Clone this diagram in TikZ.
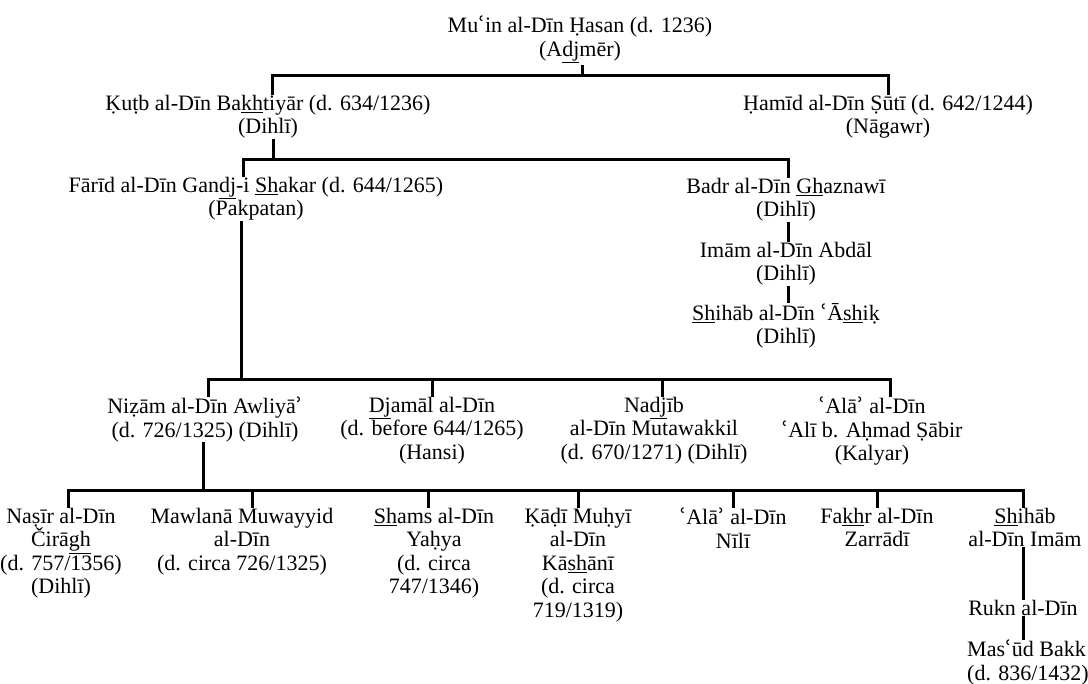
\documentclass[tikz,border=0pt]{standalone}
\usepackage{fontspec}
\setmainfont{Liberation Serif}
\newfontfamily\markfont{DejaVu Serif}
% transliteration marks for ʿayn and hamza
\newcommand\ayn{{\markfont ʿ}}
\newcommand\hmz{{\markfont ʾ}}
\newcommand\udl[1]{\underline{#1}}
\tikzset{
  person/.style={align=center, inner sep=0pt, anchor=north,
                 font=\fontsize{22}{23.5}\selectfont},
  link/.style={line width=3pt},
}
\begin{document}
\begin{tikzpicture}[x=1pt, y=-1pt]
\fill[white] (0,0) rectangle (1088,684);
\useasboundingbox (0,0) rectangle (1088,684);

% generations
\node[person] (mu) at (580,16) {Mu\ayn in al-Dīn Ḥasan (d. 1236)\\(A\udl{dj}mēr)};

\node[person] (kutb) at (268,95) {Ḳuṭb al-Dīn Ba\udl{kh}tiyār (d. 634/1236)\\(Dihlī)};
\node[person] (hamid) at (888,95) {Ḥamīd al-Dīn Ṣūtī (d. 642/1244)\\(Nāgawr)};

\node[person] (fari) at (256,177) {Fārīd al-Dīn Gan\udl{dj}-i \udl{Sh}akar (d. 644/1265)\\(Pakpatan)};
\node[person] (badr) at (786,178) {Badr al-Dīn \udl{Gh}aznawī\\(Dihlī)};
\node[person] (imam) at (786,242) {Imām al-Dīn Abdāl\\(Dihlī)};
\node[person] (shiha) at (786,303) {\udl{Sh}ihāb al-Dīn \ayn Ā\udl{sh}iḳ\\(Dihlī)};

\node[person] (nizam) at (205,397) {Niẓām al-Dīn Awliyā\hmz\\(d. 726/1325) (Dihlī)};
\node[person] (djamal) at (432,397) {\udl{Dj}amāl al-Dīn\\(d. before 644/1265)\\(Hansi)};
\node[person] (nadjib) at (654,397) {Na\udl{dj}īb\\al-Dīn Mutawakkil\\(d. 670/1271) (Dihlī)};
\node[person] (ala) at (872,397) {\ayn Alā\hmz{} al-Dīn\\\ayn Alī b. Aḥmad Ṣābir\\(Kalyar)};

\node[person] (nasir) at (61,508) {Naṣīr al-Dīn\\Čirā\udl{gh}\\(d. 757/1356)\\(Dihlī)};
\node[person] (mawlana) at (242,508) {Mawlanā Muwayyid\\al-Dīn\\(d. circa 726/1325)};
\node[person] (shams) at (434,508) {\udl{Sh}ams al-Dīn\\Yaḥya\\(d. circa\\747/1346)};
\node[person] (kadi) at (578,508) {Ḳāḍī Muḥyī\\al-Dīn\\Kā\udl{sh}ānī\\(d. circa\\719/1319)};
\node[person] (alan) at (733,508) {\ayn Alā\hmz{} al-Dīn\\Nīlī};
\node[person] (fakhr) at (877,508) {Fa\udl{kh}r al-Dīn\\Zarrādī};
\node[person] (shihb) at (1025,508) {\udl{Sh}ihāb\\al-Dīn Imām};
\node[person] (rukn) at (1023,600) {Rukn al-Dīn};
\node[person, anchor=north west, align=left] (masud) at (967,640) {Mas\ayn ūd Bakk\\(d. 836/1432)};

% bus levels
\coordinate (b1) at (0,76);
\coordinate (b2) at (0,160);
\coordinate (b3) at (0,380);
\coordinate (b4) at (0,491);

% connectors
\draw[link] ([xshift=2pt,yshift=-2pt]mu.south) -- ([xshift=2pt]mu.south |- b1);
\draw[link] ([xshift=4pt]kutb.north) -- ([xshift=4pt]kutb.north |- b1) -- (hamid.north |- b1) -- (hamid.north);

\draw[link] ([xshift=5pt]kutb.south) -- ([xshift=5pt]kutb.south |- b2);
\draw[link] ([xshift=-13pt]fari.north) -- ([xshift=-13pt]fari.north |- b2) -- ([xshift=2pt]badr.north |- b2) -- ([xshift=2pt]badr.north);

\draw[link] ([xshift=2pt]badr.south) -- ([xshift=2pt]badr.south |- imam.north);
\draw[link] ([xshift=2pt]imam.south) -- ([xshift=2pt]imam.south |- shiha.north);

\draw[link] ([xshift=-15pt]fari.south) -- ([xshift=-15pt]fari.south |- b3);
\draw[link] ([xshift=3pt]nizam.north) -- ([xshift=3pt]nizam.north |- b3) -- ([xshift=18pt]ala.north |- b3) -- ([xshift=18pt]ala.north);
\draw[link] (djamal.north) -- (djamal.north |- b3);
\draw[link] ([xshift=8pt]nadjib.north) -- ([xshift=8pt]nadjib.north |- b3);

\draw[link] ([xshift=-2pt]nizam.south) -- ([xshift=-2pt]nizam.south |- b4);
\draw[link] ([xshift=7pt]nasir.north) -- ([xshift=7pt]nasir.north |- b4) -- ([xshift=-2pt]shihb.north |- b4) -- ([xshift=-2pt]shihb.north);
\draw[link] ([xshift=10pt]mawlana.north) -- ([xshift=10pt]mawlana.north |- b4);
\draw[link] ([xshift=-6pt]shams.north) -- ([xshift=-6pt]shams.north |- b4);
\draw[link] (kadi.north) -- (kadi.north |- b4);
\draw[link] (alan.north) -- (alan.north |- b4);
\draw[link] (fakhr.north) -- (fakhr.north |- b4);

\draw[link] ([xshift=-2pt]shihb.south) -- ([xshift=-2pt]shihb.south |- rukn.north);
\draw[link] (rukn.south) -- (rukn.south |- masud.north);
\end{tikzpicture}
\end{document}
